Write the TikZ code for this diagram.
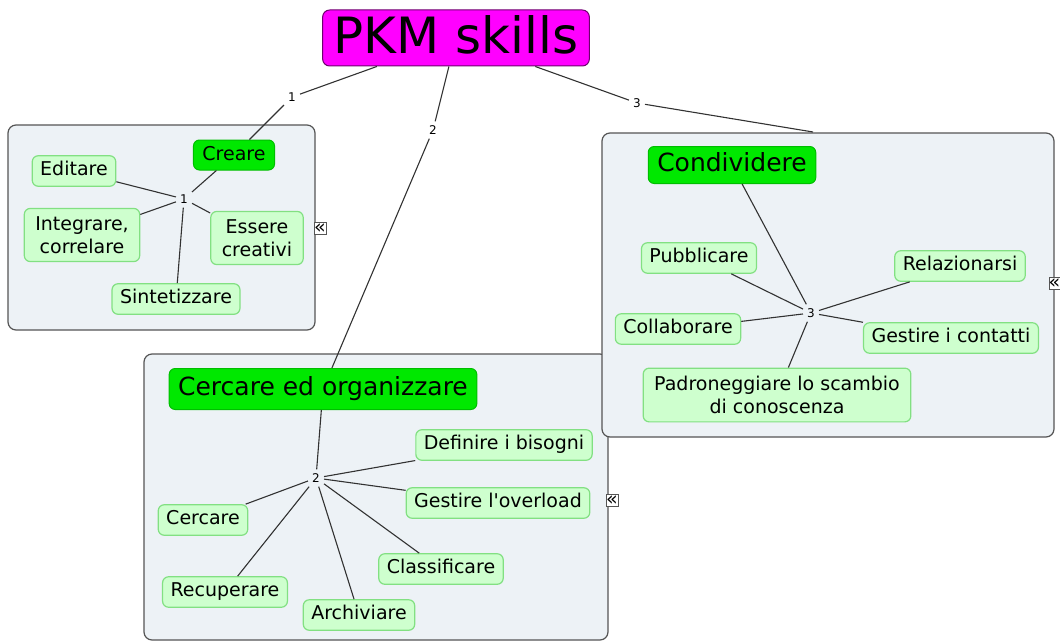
\documentclass[tikz,border=0pt]{standalone}
\usepackage{fontspec}
\setmainfont{DejaVu Sans}[Ligatures=TeXOff]

\definecolor{rootfill}{RGB}{255,0,255}
\definecolor{rootline}{RGB}{110,0,110}
\definecolor{topicfill}{RGB}{0,232,0}
\definecolor{topicline}{RGB}{0,190,0}
\definecolor{itemfill}{RGB}{206,255,206}
\definecolor{itemline}{RGB}{130,224,130}
\definecolor{groupfill}{RGB}{237,242,246}
\definecolor{groupline}{RGB}{85,85,85}
\definecolor{linkcol}{RGB}{50,50,50}

\begin{document}
\begin{tikzpicture}[x=1pt,y=-1pt,
    group/.style={draw=groupline, fill=groupfill, rounded corners=8pt, line width=1.2pt},
    topic/.style={draw=topicline, fill=topicfill, rounded corners=6pt, line width=1pt,
        font=\fontsize{25}{30}\selectfont, inner xsep=9pt, inner ysep=7pt,
        text height=18pt, text depth=5pt},
    leaf/.style={draw=itemline, fill=itemfill, rounded corners=6pt, line width=1.2pt,
        font=\fontsize{19}{23}\selectfont, inner xsep=11pt, inner ysep=8pt, align=center},
    item/.style={leaf, inner xsep=8pt, inner ysep=6pt, text height=14pt, text depth=4.5pt},
    num/.style={font=\fontsize{12}{14}\selectfont, inner sep=4pt},
    link/.style={draw=linkcol, line width=1.1pt},
    fold/.style={draw=groupline, fill=white, font=\fontsize{19}{19}\selectfont,
        inner sep=0pt, text height=10pt, text depth=0pt,
        minimum width=10pt, minimum height=12pt}]

    \useasboundingbox (0,0) rectangle (1060,642);

    % Group boxes
    \draw[group] (8,125) rectangle (315,330);
    \draw[group] (144,354) rectangle (608,640);
    \draw[group] (602,133) rectangle (1054,437);
    \coordinate (g3top) at (813,132);

    % Collapse buttons
    \node[fold] (f1) at (320,228) {«};
    \node[fold] (f2) at (612,500) {«};
    \node[fold] (f3) at (1054.5,283) {«};

    % Root
    \node[draw=rootline, fill=rootfill, rounded corners=7pt, line width=1pt,
        font=\fontsize{50}{56}\selectfont, inner xsep=11pt, inner ysep=6pt,
        text height=38pt, text depth=6pt] (root) at (456,38) {PKM skills};

    % Link labels
    \node[num] (l1) at (292,97) {1};
    \node[num] (l2) at (433,130) {2};
    \node[num] (l3) at (637,103) {3};
    \node[num] (n1) at (184,199) {1};
    \node[num] (n2) at (316,478) {2};
    \node[num] (n3) at (811,313) {3};

    % Creare
    \node[topic, font=\fontsize{19}{22}\selectfont, text height=14pt, text depth=4pt,
        inner ysep=6pt] (creare) at (234,155) {Creare};
    \node[item] (editare) at (74,171) {Editare};
    \node[leaf] (integrare) at (82,235) {Integrare,\\correlare};
    \node[leaf] (essere) at (257,238) {Essere\\creativi};
    \node[item] (sintetizzare) at (176,299) {Sintetizzare};

    % Condividere
    \node[topic] (condividere) at (732,165) {Condividere};
    \node[item] (pubblicare) at (699,258) {Pubblicare};
    \node[item] (relazionarsi) at (960,266) {Relazionarsi};
    \node[item] (collaborare) at (678,329) {Collaborare};
    \node[item] (contatti) at (951,338) {Gestire i contatti};
    \node[leaf] (padroneggiare) at (777,395) {Padroneggiare lo scambio\\di conoscenza};

    % Cercare ed organizzare
    \node[topic, inner ysep=9pt] (cercareorg) at (323,389) {Cercare ed organizzare};
    \node[item] (definire) at (504,445) {Definire i bisogni};
    \node[item] (overload) at (498,503) {Gestire l'overload};
    \node[item] (cercare) at (203,520) {Cercare};
    \node[item] (classificare) at (441,569) {Classificare};
    \node[item] (recuperare) at (225,592) {Recuperare};
    \node[item] (archiviare) at (359,615) {Archiviare};

    % Links from the root
    \draw[link] (root) -- (l1);
    \draw[link] (l1) -- (creare);
    \draw[link] (root) -- (l2);
    \draw[link] (l2) -- (cercareorg);
    \draw[link] (root) -- (l3);
    \draw[link] (l3) -- (g3top);

    % Links inside the groups
    \foreach \n in {creare,editare,integrare,essere,sintetizzare}
        \draw[link] (n1) -- (\n);
    \foreach \n in {condividere,pubblicare,relazionarsi,collaborare,contatti,padroneggiare}
        \draw[link] (n3) -- (\n);
    \foreach \n in {cercareorg,definire,overload,cercare,classificare,recuperare,archiviare}
        \draw[link] (n2) -- (\n);
\end{tikzpicture}
\end{document}
